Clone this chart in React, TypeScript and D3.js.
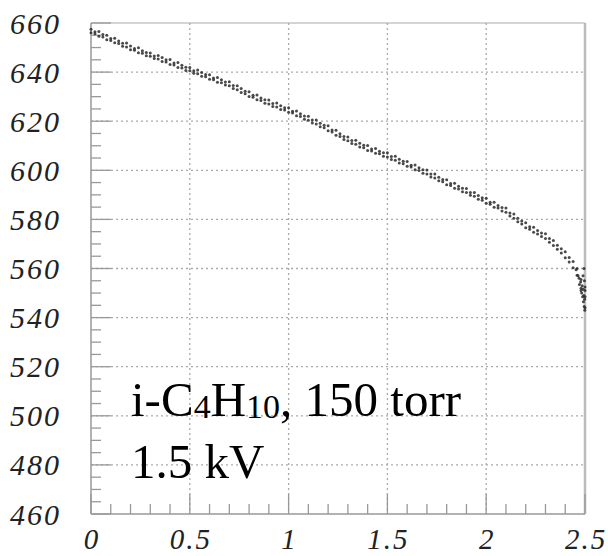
import * as d3 from 'd3';

// sample positions along the voltage axis
const xs = [
  0.00, 0.02, 0.04, 0.06, 0.08, 0.10, 0.12, 0.14, 0.16, 0.18,
  0.20, 0.22, 0.24, 0.26, 0.28, 0.30, 0.32, 0.34, 0.36, 0.38,
  0.40, 0.42, 0.44, 0.46, 0.48, 0.50, 0.52, 0.54, 0.56, 0.58,
  0.60, 0.62, 0.64, 0.66, 0.68, 0.70, 0.72, 0.74, 0.76, 0.78,
  0.80, 0.82, 0.84, 0.86, 0.88, 0.90, 0.92, 0.94, 0.96, 0.98,
  1.00, 1.02, 1.04, 1.06, 1.08, 1.10, 1.12, 1.14, 1.16, 1.18,
  1.20, 1.22, 1.24, 1.26, 1.28, 1.30, 1.32, 1.34, 1.36, 1.38,
  1.40, 1.42, 1.44, 1.46, 1.48, 1.50, 1.52, 1.54, 1.56, 1.58,
  1.60, 1.62, 1.64, 1.66, 1.68, 1.70, 1.72, 1.74, 1.76, 1.78,
  1.80, 1.82, 1.84, 1.86, 1.88, 1.90, 1.92, 1.94, 1.96, 1.98,
  2.00, 2.02, 2.04, 2.06, 2.08, 2.10, 2.12, 2.14, 2.16, 2.18,
  2.20, 2.22, 2.24, 2.26, 2.28, 2.30, 2.32, 2.34, 2.36, 2.38,
  2.40, 2.42, 2.44, 2.46, 2.48, 2.50,
];

// upper edge of the scatter band
const ysA = [
  657.5, 656.4, 656.5, 655.3, 655.0, 653.7, 653.8, 652.7, 651.8, 651.9,
  650.6, 649.6, 649.9, 648.7, 648.0, 647.8, 646.6, 646.8, 645.9, 645.0,
  645.1, 643.7, 643.9, 642.8, 642.0, 641.9, 640.6, 640.9, 639.8, 639.0,
  638.9, 637.6, 637.8, 636.9, 636.0, 636.1, 634.5, 634.4, 633.3, 632.2,
  632.0, 630.6, 630.7, 629.5, 628.7, 628.6, 627.2, 627.4, 626.3, 625.5,
  625.5, 624.1, 624.2, 623.0, 622.1, 622.0, 620.5, 620.5, 619.2, 618.3,
  618.1, 616.4, 616.3, 614.9, 613.8, 613.6, 612.1, 612.2, 611.0, 610.2,
  610.1, 608.7, 608.9, 607.8, 607.1, 607.1, 605.6, 605.7, 604.5, 603.7,
  603.6, 602.1, 602.2, 601.0, 600.2, 600.1, 598.5, 598.5, 597.2, 596.3,
  596.1, 594.6, 594.7, 593.5, 592.7, 592.6, 591.0, 591.0, 589.7, 588.8,
  588.6, 587.0, 587.0, 585.7, 584.8, 584.6, 582.6, 582.2, 580.5, 579.3,
  578.6, 577.0, 576.8, 575.5, 574.5, 574.2, 572.2, 571.4, 569.5, 568.0,
  566.8, 564.5, 562.9, 560.0, 555.5, 551.0,
];

// lower edge of the scatter band
const ysB = [
  656.0, 655.6, 654.6, 654.3, 653.2, 652.9, 652.0, 651.6, 650.5, 650.2,
  649.1, 648.9, 647.9, 647.7, 646.7, 646.5, 645.5, 645.3, 644.3, 644.1,
  643.1, 642.9, 641.9, 641.7, 640.7, 640.5, 639.5, 639.3, 638.3, 638.1,
  637.1, 636.9, 635.9, 635.7, 634.7, 634.4, 633.3, 632.8, 631.7, 631.2,
  630.1, 629.8, 628.7, 628.4, 627.3, 627.0, 626.0, 625.8, 624.8, 624.6,
  623.6, 623.3, 622.2, 621.9, 620.8, 620.4, 619.3, 618.9, 617.7, 617.3,
  616.1, 615.6, 614.3, 613.8, 612.5, 612.0, 610.9, 610.6, 609.5, 609.2,
  608.1, 607.9, 606.9, 606.7, 605.7, 605.4, 604.4, 604.1, 603.0, 602.7,
  601.6, 601.3, 600.2, 599.9, 598.8, 598.5, 597.3, 596.9, 595.7, 595.3,
  594.1, 593.8, 592.7, 592.4, 591.3, 591.0, 589.8, 589.4, 588.2, 587.8,
  586.6, 586.2, 585.0, 584.6, 583.4, 582.9, 581.4, 580.5, 579.0, 578.1,
  576.6, 576.0, 574.8, 574.1, 573.0, 572.2, 570.7, 569.4, 567.8, 566.3,
  564.4, 562.6, 560.3, 557.2, 551.0, 544.0,
];

// the steep drop right at the end
const tailPoints: [number, number][] = [
  [2.455, 559.5], [2.465, 557.0], [2.47, 556.0], [2.472, 553.5], [2.478, 554.5],
  [2.48, 552.0], [2.483, 550.0], [2.486, 553.0], [2.488, 548.5], [2.49, 551.5],
  [2.492, 546.5], [2.494, 549.0], [2.496, 544.5], [2.498, 547.5], [2.499, 543.0],
  [2.5, 548.5], [2.5, 552.5], [2.497, 555.0], [2.49, 557.0], [2.495, 560.0],
];

const xTicks = [0, 0.5, 1, 1.5, 2, 2.5];
const xTickLabels = ['0', '0.5', '1', '1.5', '2', '2.5'];
const yTicks = [460, 480, 500, 520, 540, 560, 580, 600, 620, 640, 660];

export default function App() {
  const width = 608;
  const height = 556;
  const plot = { left: 91, right: 585, top: 23, bottom: 514 };

  const x = d3.scaleLinear().domain([0, 2.5]).range([plot.left, plot.right]);
  const y = d3.scaleLinear().domain([460, 660]).range([plot.bottom, plot.top]);

  const points: [number, number][] = [
    ...xs.map((v, i) => [v, ysA[i]] as [number, number]),
    ...xs.map((v, i) => [v, ysB[i]] as [number, number]),
    ...tailPoints,
  ];

  const xMinor = x.ticks(25).filter((t) => !xTicks.some((m) => Math.abs(m - t) < 1e-6));
  const yMinor = y.ticks(40).filter((t) => !yTicks.includes(t));

  const axisColor = '#999';
  const gridColor = '#aaa';
  const labelFont = '"Liberation Serif", "Times New Roman", serif';

  return (
    <svg
      width={width}
      height={height}
      style={{ position: 'absolute', left: 0, top: 0, background: '#fff' }}
    >
      {/* grid */}
      {xTicks.slice(1, -1).map((t) => (
        <line key={'gx' + t} x1={x(t)} x2={x(t)} y1={plot.top} y2={plot.bottom}
          stroke={gridColor} strokeWidth={1.3} strokeDasharray="2,3" />
      ))}
      {yTicks.slice(1, -1).map((t) => (
        <line key={'gy' + t} x1={plot.left} x2={plot.right} y1={y(t)} y2={y(t)}
          stroke={gridColor} strokeWidth={1.3} strokeDasharray="2,3" />
      ))}

      {/* frame */}
      <line x1={plot.left} x2={plot.right} y1={plot.top} y2={plot.top} stroke="#aaa" strokeWidth={1.2} />
      <line x1={plot.right} x2={plot.right} y1={plot.top} y2={plot.bottom} stroke="#bbb" strokeWidth={2.5} />
      <line x1={plot.left} x2={plot.left} y1={plot.top} y2={plot.bottom} stroke={axisColor} strokeWidth={1.5} />
      <line x1={plot.left} x2={plot.right} y1={plot.bottom} y2={plot.bottom} stroke={axisColor} strokeWidth={1.5} />

      {/* ticks */}
      {yTicks.map((t) => (
        <line key={'ty' + t} x1={plot.left} x2={plot.left + 20} y1={y(t)} y2={y(t)} stroke={axisColor} strokeWidth={1.3} />
      ))}
      {yMinor.map((t) => (
        <line key={'tmy' + t} x1={plot.left} x2={plot.left + 10} y1={y(t)} y2={y(t)} stroke={axisColor} strokeWidth={1.3} />
      ))}
      {xTicks.map((t) => (
        <line key={'tx' + t} x1={x(t)} x2={x(t)} y1={plot.bottom} y2={plot.bottom - 20} stroke={axisColor} strokeWidth={1.3} />
      ))}
      {xMinor.map((t) => (
        <line key={'tmx' + t} x1={x(t)} x2={x(t)} y1={plot.bottom} y2={plot.bottom - 10} stroke={axisColor} strokeWidth={1.3} />
      ))}

      {/* tick labels */}
      {yTicks.map((t) => (
        <text key={'ly' + t} x={plot.left - 30} y={y(t)} dy="0.35em" textAnchor="end"
          fontFamily={labelFont} fontStyle="italic" fontSize={30} letterSpacing={2} fill="#222">
          {t}
        </text>
      ))}
      {xTicks.map((t, i) => (
        <text key={'lx' + t} x={x(t) + 1} y={549} textAnchor="middle"
          fontFamily={labelFont} fontStyle="italic" fontSize={29} letterSpacing={2} fill="#222">
          {xTickLabels[i]}
        </text>
      ))}

      {/* data */}
      {points.map((p, i) => (
        <circle key={'p' + i} cx={x(p[0])} cy={y(p[1])} r={1.5} fill="#2a2a2a" opacity={0.85} />
      ))}

      {/* annotation */}
      <text x={131} y={416} fontFamily={labelFont} fontSize={49} fill="#000">
        i-C<tspan fontSize={34} dy={2}>4</tspan>
        <tspan dy={-2}>H</tspan>
        <tspan fontSize={34} dy={2}>10</tspan>
        <tspan dy={-2}>, 150 torr</tspan>
      </text>
      <text x={131} y={478} fontFamily={labelFont} fontSize={49} fill="#000">
        1.5 kV
      </text>
    </svg>
  );
}
